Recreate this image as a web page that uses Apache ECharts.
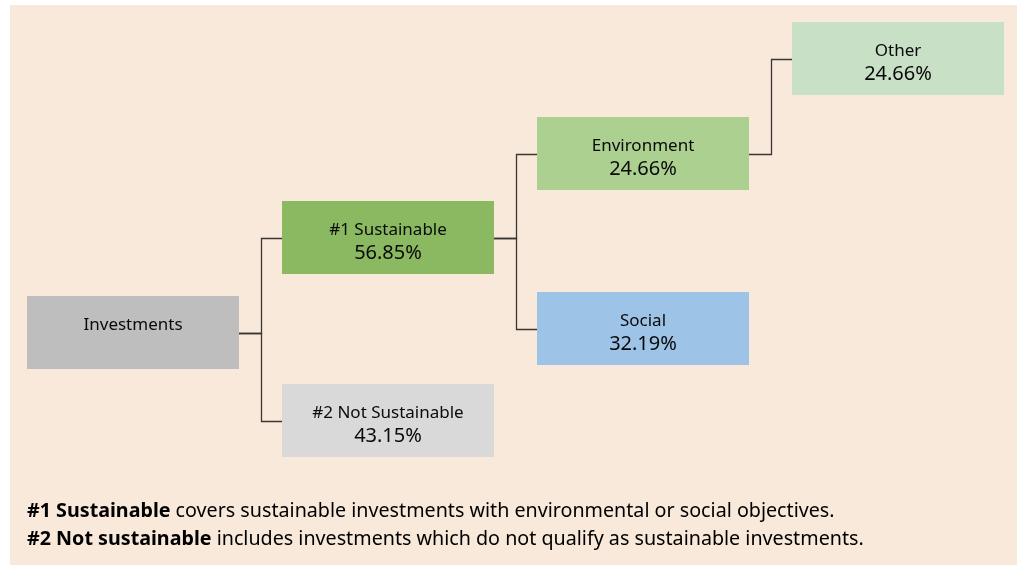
<!DOCTYPE html>
<html><head><meta charset="utf-8">
<script src="https://cdn.jsdelivr.net/npm/echarts@6/dist/echarts.min.js"></script>
<style>html,body{margin:0;padding:0;background:#fff}#c{width:1017px;height:565px}</style>
</head><body><div id="c"></div>
<script>
const names = ['Investments', '#1 Sustainable', '#2 Not Sustainable', 'Environment', 'Social', 'Other'];
const shares = ['', '56.85%', '43.15%', '24.66%', '32.19%', '24.66%'];
const parents = [-1, 0, 0, 1, 1, 3];
const columns = [0, 1, 1, 2, 2, 3];
const rows = [332.5, 237.5, 420.5, 153.5, 328.5, 58.5];
const boxColors = ['#BEBEBE', '#8AB962', '#D9D9D9', '#ABD08F', '#9DC3E6', '#C7E0C6'];
const footBold = ['#1 Sustainable', '#2 Not sustainable'];
const footText = [' covers sustainable investments with environmental or social objectives.',
                  ' includes investments which do not qualify as sustainable investments.'];

const FONT = '"Noto Sans", sans-serif';
const BOX_W = 212, BOX_H = 73;
const chart = echarts.init(document.getElementById('c'), null, {renderer: 'canvas'});
const data = names.map((n, i) => [columns[i], rows[i], i]);

function renderItem(params, api) {
  const i = api.value(2);
  const c = api.coord([api.value(0), api.value(1)]);
  const children = [];
  const p = parents[i];
  if (p >= 0) {
    const pc = api.coord([columns[p], rows[p]]);
    const x1 = pc[0] + BOX_W / 2, x2 = c[0] - BOX_W / 2;
    const mx = Math.round((x1 + x2) / 2) + 0.5;
    const y1 = Math.round(pc[1]) + 0.5, y2 = Math.round(c[1]) + 0.5;
    children.push({
      type: 'polyline',
      shape: {points: [[x1, y1], [mx, y1], [mx, y2], [x2, y2]]},
      style: {stroke: '#3b3532', lineWidth: 1.3, fill: null}
    });
  }
  children.push({
    type: 'rect',
    shape: {x: Math.round(c[0] - BOX_W / 2), y: Math.round(c[1] - BOX_H / 2), width: BOX_W, height: BOX_H},
    style: {fill: boxColors[i]}
  });
  children.push({
    type: 'text',
    style: {text: names[i], x: c[0], y: c[1] - 7.5, align: 'center', verticalAlign: 'middle',
            fontSize: 17, fontFamily: FONT, fill: '#0a0a0a'}
  });
  if (shares[i]) {
    children.push({
      type: 'text',
      style: {text: shares[i], x: c[0], y: c[1] + 15.5, align: 'center', verticalAlign: 'middle',
              fontSize: 20, fontFamily: FONT, fill: '#0a0a0a'}
    });
  }
  return {type: 'group', children};
}

const footGraphics = footBold.map((b, k) => ({
  type: 'text',
  x: 27,
  y: 511 + k * 28,
  z: 10,
  style: {
    text: '{b|' + b + '}{n|' + footText[k] + '}',
    verticalAlign: 'middle',
    rich: {
      b: {fontSize: 19.7, fontWeight: 'bold', fontFamily: FONT, fill: '#000'},
      n: {fontSize: 19.7, fontFamily: FONT, fill: '#000'}
    }
  }
}));

chart.setOption({
  animation: false,
  backgroundColor: '#ffffff',
  graphic: [
    {type: 'rect', left: 10, top: 5, z: -10, shape: {width: 1007, height: 560}, style: {fill: '#F9E9DA'}},
    ...footGraphics
  ],
  grid: {left: 133, right: 119, top: 0, bottom: 0},
  xAxis: {type: 'value', min: 0, max: 3, show: false},
  yAxis: {type: 'value', min: 0, max: 565, inverse: true, show: false},
  series: [{type: 'custom', renderItem, data, clip: false}]
});
</script></body></html>
